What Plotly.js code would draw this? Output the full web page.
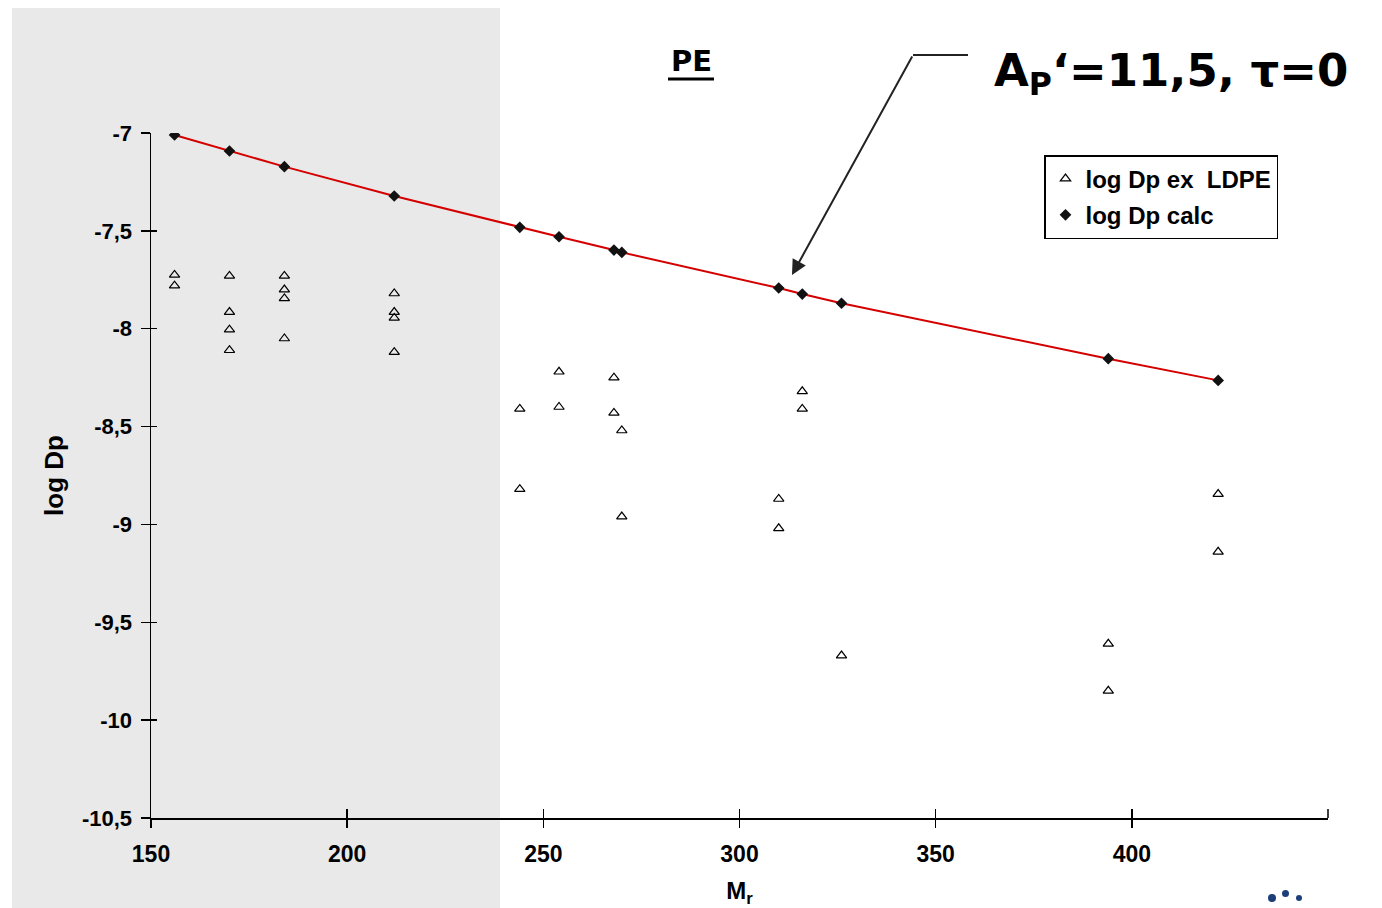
<!DOCTYPE html>
<html>
<head>
<meta charset="utf-8">
<script src="https://cdn.plot.ly/plotly-3.0.1.min.js"></script>
<style>html,body{margin:0;padding:0;background:#fff;}#chart{width:1382px;height:908px;}</style>
</head>
<body>
<div id="chart"></div>
<script>
// Experimental values (open triangles)
const expM = [156,156,170,170,170,170,184,184,184,184,212,212,212,212,244,244,254,254,268,268,270,270,310,310,316,316,326,394,394,422,422];
const expLogDp = [-7.725,-7.78,-7.73,-7.915,-8.005,-8.11,-7.73,-7.80,-7.845,-8.05,-7.82,-7.915,-7.945,-8.12,-8.41,-8.82,-8.22,-8.40,-8.25,-8.43,-8.52,-8.96,-8.87,-9.02,-8.32,-8.41,-9.67,-9.61,-9.85,-8.845,-9.14];
// Calculated values (filled diamonds + red line)
const calcM = [156,170,184,212,244,254,268,270,310,316,326,394,422];
const calcLogDp = [-7.01,-7.092,-7.172,-7.322,-7.482,-7.53,-7.598,-7.61,-7.792,-7.823,-7.87,-8.153,-8.264];
// Tick labels
const xTickVals = [150,200,250,300,350,400];
const xTickText = ['150','200','250','300','350','400'];
const yTickVals = [-7,-7.5,-8,-8.5,-9,-9.5,-10,-10.5];
const yTickText = ['-7','-7,5','-8','-8,5','-9','-9,5','-10','-10,5'];
const seriesNames = ['log Dp ex  LDPE','log Dp calc'];

const L = 151, R = 1328, T = 133, B = 818, W = 1382, H = 908;
const pw = R - L, ph = B - T;
const px = x => (x - L) / pw;
const py = y => (B - y) / ph;

const boldFont = {family: 'Liberation Sans, Arial, sans-serif', color: '#000', weight: 'bold'};

const traces = [
  {x: expM, y: expLogDp, name: seriesNames[0], legendgroup: 'a', type: 'scatter', mode: 'markers',
   marker: {symbol: 'triangle-up-open', size: 9, color: '#000', line: {width: 1.2, color: '#000'}}},
  {x: calcM, y: calcLogDp, name: 'line', type: 'scatter', mode: 'lines', showlegend: false,
   line: {color: '#d40000', width: 2}, hoverinfo: 'skip'},
  {x: calcM, y: calcLogDp, name: seriesNames[1], legendgroup: 'b', type: 'scatter', mode: 'markers',
   marker: {symbol: 'diamond', size: 9, color: '#111'}},
  // invisible trace for the inner tick axes
  {x: [150], y: [-10.5], xaxis: 'x2', yaxis: 'y2', mode: 'markers', marker: {opacity: 0}, showlegend: false, hoverinfo: 'skip'}
];

const layout = {
  width: W, height: H,
  margin: {l: L, r: W - R, t: T, b: H - B, pad: 0},
  paper_bgcolor: '#fff', plot_bgcolor: 'rgba(0,0,0,0)',
  separators: ', ',
  showlegend: true,
  legend: {x: px(1044), y: py(155), xanchor: 'left', yanchor: 'top', traceorder: 'grouped',
    bgcolor: '#fff', bordercolor: '#000', borderwidth: 1.5,
    font: Object.assign({}, boldFont, {size: 24}), tracegroupgap: 2, itemwidth: 30},
  xaxis: {range: [150, 450], tickvals: xTickVals, ticktext: xTickText,
    showgrid: false, zeroline: false, showline: true, linecolor: '#000', linewidth: 1.5,
    ticks: 'outside', ticklen: 8, tickwidth: 1.5, tickcolor: '#000', ticklabelstandoff: 7,
    tickfont: Object.assign({}, boldFont, {size: 23}),
    title: {text: 'M<sub>r</sub>', font: Object.assign({}, boldFont, {size: 24}), standoff: 18}},
  yaxis: {range: [-10.5, -7], tickvals: yTickVals, ticktext: yTickText,
    showgrid: false, zeroline: false, showline: true, linecolor: '#000', linewidth: 1.5,
    ticks: 'outside', ticklen: 9, tickwidth: 1.5, tickcolor: '#000', ticklabelstandoff: 4,
    tickfont: Object.assign({}, boldFont, {size: 22}),
    title: {text: 'log Dp', font: Object.assign({}, boldFont, {size: 26}), standoff: 11}},
  xaxis2: {range: [150, 450], overlaying: 'x', tickvals: xTickVals, showticklabels: false,
    showgrid: false, zeroline: false, ticks: 'inside', ticklen: 9, tickwidth: 1.5, tickcolor: '#000'},
  yaxis2: {range: [-10.5, -7], overlaying: 'y', tickvals: yTickVals, showticklabels: false,
    showgrid: false, zeroline: false, ticks: 'inside', ticklen: 6, tickwidth: 1.5, tickcolor: '#000'},
  shapes: [
    {type: 'rect', xref: 'paper', yref: 'paper', x0: px(12), x1: px(500), y0: py(908), y1: py(8),
     fillcolor: '#e9e9e9', line: {width: 0}, layer: 'below'},
    {type: 'line', xref: 'paper', yref: 'paper', x0: px(913), x1: px(968), y0: py(55), y1: py(55),
     line: {color: '#222', width: 2}},
    {type: 'line', xref: 'paper', yref: 'paper', x0: 1, x1: 1, y0: 0, y1: py(809),
     line: {color: '#000', width: 1.5}},
    {type: 'line', xref: 'paper', yref: 'paper', x0: px(668), x1: px(714), y0: py(79), y1: py(79),
     line: {color: '#000', width: 3}},
    {type: 'circle', xref: 'paper', yref: 'paper', x0: px(1268), x1: px(1276), y0: py(902), y1: py(894),
     fillcolor: '#1c3f7a', line: {width: 0}},
    {type: 'circle', xref: 'paper', yref: 'paper', x0: px(1282), x1: px(1289), y0: py(897), y1: py(890),
     fillcolor: '#1c3f7a', line: {width: 0}},
    {type: 'circle', xref: 'paper', yref: 'paper', x0: px(1296), x1: px(1302), y0: py(901), y1: py(895),
     fillcolor: '#1c3f7a', line: {width: 0}}
  ],
  annotations: [
    {xref: 'paper', yref: 'paper', x: px(691), y: py(61), xanchor: 'center', yanchor: 'middle',
     text: '<b>PE</b>', showarrow: false,
     font: {family: 'DejaVu Sans, Verdana, sans-serif', size: 29, color: '#000'}},
    {xref: 'paper', yref: 'paper', x: px(992), y: py(73), xanchor: 'left', yanchor: 'middle',
     text: '<b>A<sub>P</sub>‘=11,5, τ=0</b>', showarrow: false,
     font: {family: 'DejaVu Sans, Verdana, sans-serif', size: 45, color: '#000'}},
    {xref: 'paper', yref: 'paper', x: px(792), y: py(275), text: '', showarrow: true,
     axref: 'pixel', ayref: 'pixel', ax: 913 - 792, ay: 55 - 275,
     arrowhead: 2, arrowsize: 1.5, arrowwidth: 2, arrowcolor: '#222'}
  ]
};

Plotly.newPlot('chart', traces, layout, {displayModeBar: false, staticPlot: true});
</script>
</body>
</html>
